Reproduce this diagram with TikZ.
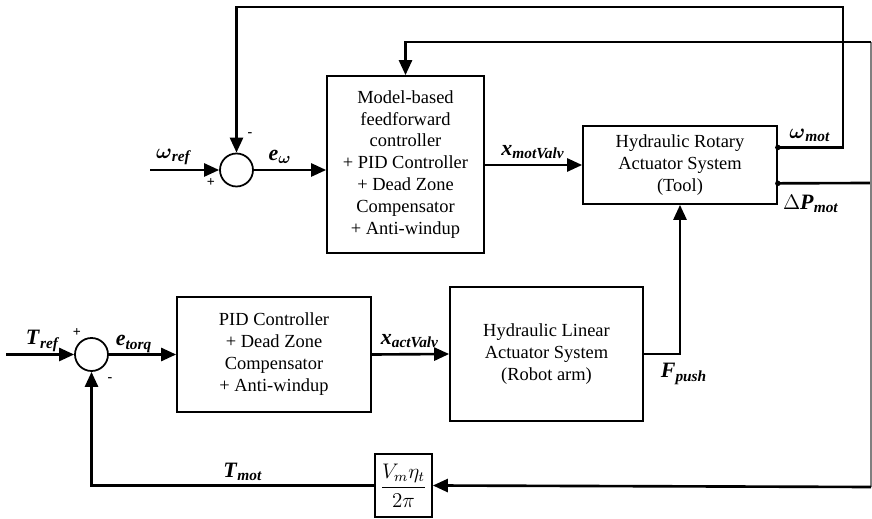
\documentclass[tikz,border=0pt]{standalone}
\usepackage{amsmath}
\usepackage{fontspec}
\setmainfont{Liberation Serif}
\usepackage{tikz}
\usetikzlibrary{calc,arrows.meta,positioning}
\newcommand{\sgl}[2]{\textbf{\textit{#1}}\textsubscript{\textbf{\textit{#2}}}}
\tikzset{
  blk/.style={draw,line width=1pt,align=center,inner sep=0pt,font=\fontsize{10.5}{12.5}\selectfont},
  sumc/.style={circle,draw,line width=1pt,minimum size=0.66cm,inner sep=0pt},
  sig/.style={-{Triangle[length=0.3cm,width=0.26cm]},line width=1.5pt},
  wire/.style={line width=1.5pt},
  lb/.style={font=\fontsize{12.5}{14}\selectfont,inner sep=0pt},
  sg/.style={font=\fontsize{8}{8}\selectfont\bfseries,inner sep=0pt},
  dot/.style={circle,fill,inner sep=0pt,minimum size=0.11cm}
}
\begin{document}
\begin{tikzpicture}[x=0.02cm,y=-0.02cm]
\useasboundingbox (0,0) rectangle (872,519);
% blocks
\node[sumc] (sumw) at (236.5,170) {};
\node[blk,minimum width=3.14cm,minimum height=3.54cm] (mbc) at (405.5,164.5)
  {Model-based\\feedforward\\controller\\+ PID Controller\\+ Dead Zone\\Compensator\\+ Anti-windup};
\node[blk,minimum width=3.88cm,minimum height=1.56cm] (rot) at (680,165)
  {Hydraulic Rotary\\Actuator System\\(Tool)};
\node[sumc] (sumt) at (91.5,354.5) {};
\node[blk,minimum width=3.88cm,minimum height=2.3cm] (pid) at (274,354.5)
  {PID Controller\\+ Dead Zone\\Compensator\\+ Anti-windup};
\node[blk,minimum width=3.86cm,minimum height=2.68cm] (lin) at (546.5,354)
  {Hydraulic Linear\\Actuator System\\(Robot arm)};
\node[blk,minimum width=1.14cm,minimum height=1.26cm,font=\fontsize{12}{14}\selectfont] (gain) at (403.5,485.5)
  {$\dfrac{V_m\eta_t}{2\pi}$};
% inputs and outputs
\coordinate (win) at (150,170);
\coordinate (tin) at (6,354.5);
\coordinate (wo) at ($(rot.north east)!0.28!(rot.south east)$);
\coordinate (dp) at ($(rot.north east)!0.73!(rot.south east)$);
\coordinate (wtop) at (843,7);
\coordinate (dpr) at (871,183);
\coordinate (ptop) at (871,42);
\coordinate (pbot) at (871,487);
% forward paths
\draw[sig] (win) -- (sumw.west);
\draw[sig] (sumw.east) -- (sumw.east -| mbc.west);
\draw[sig] (rot.west -| mbc.east) -- (rot.west);
\draw[sig] (tin) -- (sumt.west);
\draw[sig] (sumt.east) -- (pid.west);
\draw[sig] (pid.east) -- (lin.west);
\draw[sig] (lin.east) -| (rot.south);
% feedback paths
\draw[sig] (wo) -| (wtop) -| (sumw.north);
\draw[wire] (dp) -- (dpr);
\draw[gray,line width=0.8pt] (ptop) -- (pbot);
\draw[sig] (ptop) -| (mbc.north);
\draw[sig] (pbot) -- (gain.east);
\draw[sig] (gain.west) -| (sumt.south);
\node[dot] at (wo) {};
\node[dot] at (dp) {};
% labels
\node[lb] at (174,157) {\sgl{$\boldsymbol{\omega}$}{ref}};
\node[lb] at (280,157) {\sgl{e}{$\boldsymbol{\omega}$}};
\node[lb] at (533,152) {\sgl{x}{motValv}};
\node[lb] at (810,135) {\sgl{$\boldsymbol{\omega}$}{mot}};
\node[lb] at (811,204) {\textbf{$\Delta$}\sgl{P}{mot}};
\node[lb] at (684,374) {\sgl{F}{push}};
\node[lb] at (410,341) {\sgl{x}{actValv}};
\node[lb] at (43,341) {\sgl{T}{ref}};
\node[lb] at (134,344) {\sgl{e}{torq}};
\node[lb] at (243,472) {\sgl{T}{mot}};
\node[sg] at (250,135) {-};
\node[sg] at (211,183) {+};
\node[sg] at (77,333) {+};
\node[sg] at (110,380) {-};
\end{tikzpicture}
\end{document}
